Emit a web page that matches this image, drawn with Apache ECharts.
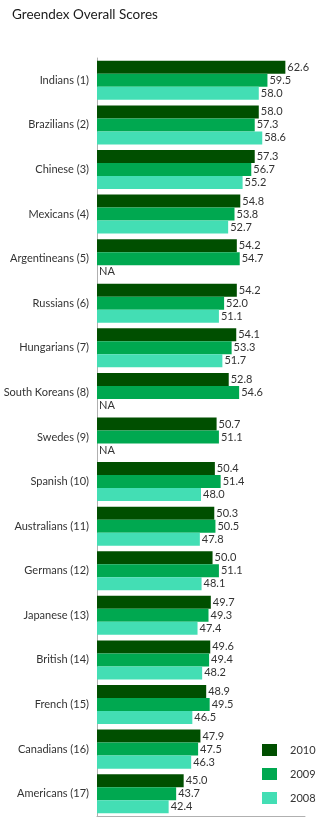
<!DOCTYPE html>
<html>
<head>
<meta charset="utf-8">
<script src="https://cdn.jsdelivr.net/npm/echarts@6/dist/echarts.min.js"></script>
<style>
html,body{margin:0;padding:0;background:#fff;}
#chart{width:330px;height:821px;}
</style>
</head>
<body>
<div id="chart"></div>
<script>
var categories = ['Indians (1)','Brazilians (2)','Chinese (3)','Mexicans (4)','Argentineans (5)','Russians (6)','Hungarians (7)','South Koreans (8)','Swedes (9)','Spanish (10)','Australians (11)','Germans (12)','Japanese (13)','British (14)','French (15)','Canadians (16)','Americans (17)'];
var scores2010 = [62.6,58.0,57.3,54.8,54.2,54.2,54.1,52.8,50.7,50.4,50.3,50.0,49.7,49.6,48.9,47.9,45.0];
var scores2009 = [59.5,57.3,56.7,53.8,54.7,52.0,53.3,54.6,51.1,51.4,50.5,51.1,49.3,49.4,49.5,47.5,43.7];
var scores2008 = [58.0,58.6,55.2,52.7,null,51.1,51.7,null,null,48.0,47.8,48.1,47.4,48.2,46.5,46.3,42.4];
var seriesNames = ['2010','2009','2008'];
var axisMin = 30, axisMax = 66;

var colors = ['#004f00','#00a850','#43deb4'];
var font = 'Lato, "Open Sans", sans-serif';

function toData(arr){
  return arr.map(function(v){
    if (v === null) return {value: axisMin, label:{formatter:'NA'}};
    return {value: v};
  });
}

var allData = [scores2010, scores2009, scores2008];
var series = allData.map(function(arr, i){
  return {
    name: seriesNames[i],
    type: 'bar',
    data: toData(arr),
    barGap: '0%',
    barCategoryGap: '12.5%',
    itemStyle: {color: colors[i]},
    label: {
      show: true, position: 'right', distance: 2,
      color: '#333', fontSize: 11, fontFamily: font,
      formatter: function(p){ return p.value.toFixed(1); }
    },
    animation: false
  };
});

var chart = echarts.init(document.getElementById('chart'));
chart.setOption({
  animation: false,
  title: {
    text: 'Greendex Overall Scores', left: 7, top: 3,
    textStyle: {fontSize: 13.5, fontWeight: 'normal', color: '#1a1a1a', fontFamily: font}
  },
  legend: {
    orient: 'vertical', left: 257, top: 739,
    itemWidth: 15, itemHeight: 12, itemGap: 12,
    icon: 'rect',
    data: seriesNames,
    textStyle: {fontSize: 11, color: '#333', fontFamily: font, padding: [0,0,0,8]}
  },
  grid: {left: 97, right: 25, top: 58, bottom: 5, containLabel: false, outerBoundsMode: 'none'},
  xAxis: {
    type: 'value', min: axisMin, max: axisMax,
    axisLabel: {show: false}, axisTick: {show: false}, splitLine: {show: false},
    axisLine: {show: true, onZero: false, lineStyle: {color: '#b0b0b0', width: 1}}
  },
  yAxis: {
    type: 'category', data: categories, inverse: true,
    axisTick: {show: false},
    axisLine: {show: true, lineStyle: {color: '#b0b0b0', width: 1}},
    axisLabel: {color: '#333', fontSize: 11, fontFamily: font, margin: 8}
  },
  series: series
});
</script>
</body>
</html>
